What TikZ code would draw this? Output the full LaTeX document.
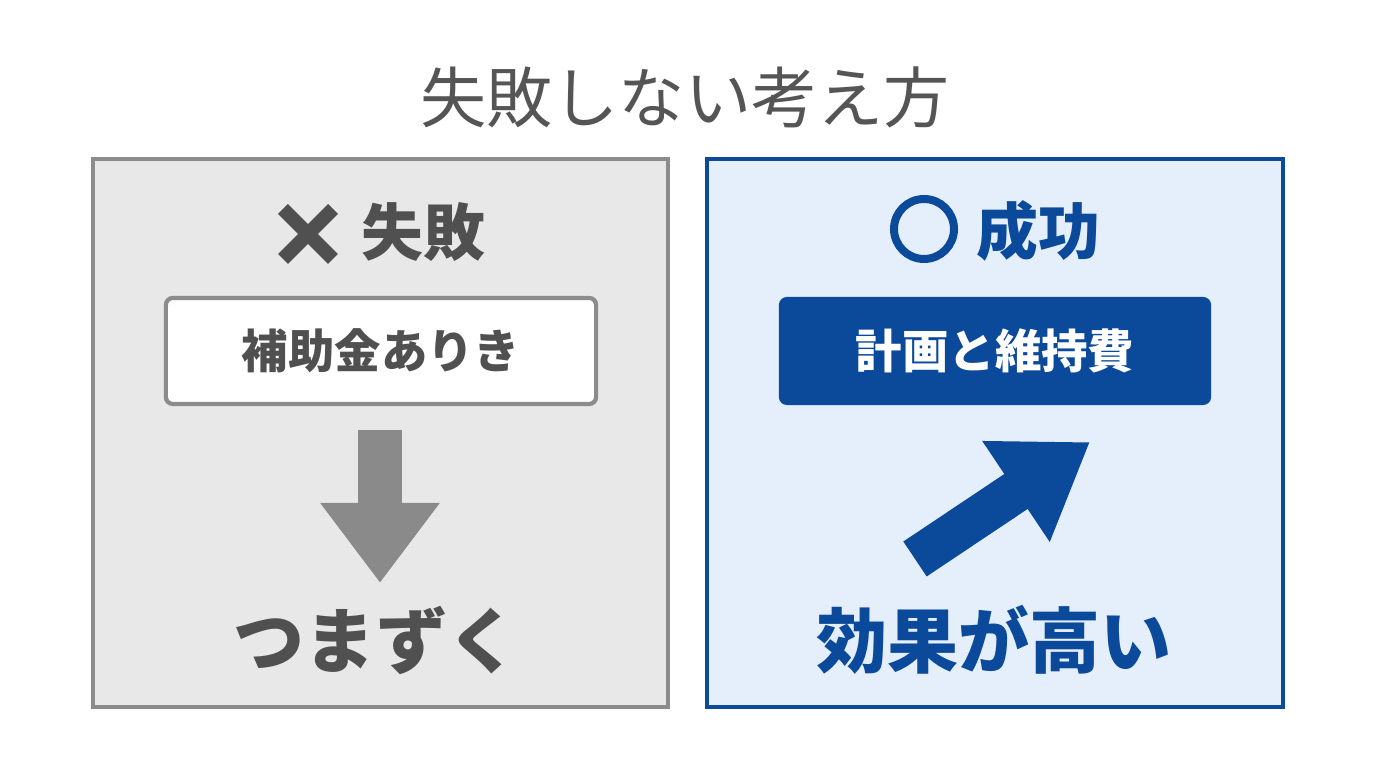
\documentclass[tikz,border=0pt]{standalone}
\usepackage{fontspec}
\usepackage{xcolor}
\usepackage{tikz}
\usetikzlibrary{arrows.meta}
\setmainfont{Noto Sans CJK JP}

\begin{document}
\begin{tikzpicture}[x=0.01cm,y=-0.01cm,every node/.style={inner sep=0pt, outer sep=0pt},
  darkgray/.style={color={rgb,255:red,80;green,80;blue,80}},
  darkblue/.style={color={rgb,255:red,11;green,74;blue,155}},
  head/.style={font=\fontsize{17.6}{20}\selectfont\bfseries},
  boxtext/.style={font=\fontsize{13.2}{15}\selectfont\bfseries},
  result/.style={font=\fontsize{20.2}{23}\selectfont\bfseries}]
\useasboundingbox[fill=white] (0,0) rectangle (1376,768);
\node[font=\fontsize{18.8}{21}\selectfont, text={rgb,255:red,85;green,85;blue,85}] (title) at (685,97) {失敗しない考え方};
\draw[line width=1.2pt, draw={rgb,255:red,140;green,140;blue,140}, fill={rgb,255:red,232;green,232;blue,232}] (93,159) rectangle (668,707);
\draw[line width=1.2pt, darkblue, fill={rgb,255:red,228;green,239;blue,251}] (707,159) rectangle (1283,707);
\draw[darkgray, line width=0.14cm] (283,209) -- (333,259) (283,259) -- (333,209);
\node[head, darkgray] (fail) at (423,232) {失敗};
\draw[darkblue, line width=0.08cm] (924,229) circle (30);
\node[head, darkblue] (success) at (1038,231) {成功};
\node[boxtext, darkgray, draw={rgb,255:red,140;green,140;blue,140}, line width=1.2pt, fill=white, rounded corners=0.07cm, minimum width=4.3cm, minimum height=1.06cm] (subsidy) at (381,351) {補助金ありき};
\node[boxtext, text=white, fill={rgb,255:red,11;green,74;blue,155}, rounded corners=0.08cm, minimum width=4.32cm, minimum height=1.08cm] (plan) at (995,351) {計画と維持費};
\node[result, darkgray] (stumble) at (376,640) {つまずく};
\node[result, darkblue] (effect) at (994,640) {効果が高い};
\coordinate (gtop) at (380,430);
\coordinate (gtip) at (380,583);
\coordinate (btail) at (915,559);
\coordinate (btip) at (1090,442);
\draw[line width=0.44cm, color={rgb,255:red,138;green,138;blue,138}, -{Triangle[length=0.8cm,width=1.14cm]}] (gtop) -- (gtip);
\draw[line width=0.42cm, darkblue, -{Triangle[length=0.89cm,width=1.15cm]}] (btail) -- (btip);
\end{tikzpicture}
\end{document}
